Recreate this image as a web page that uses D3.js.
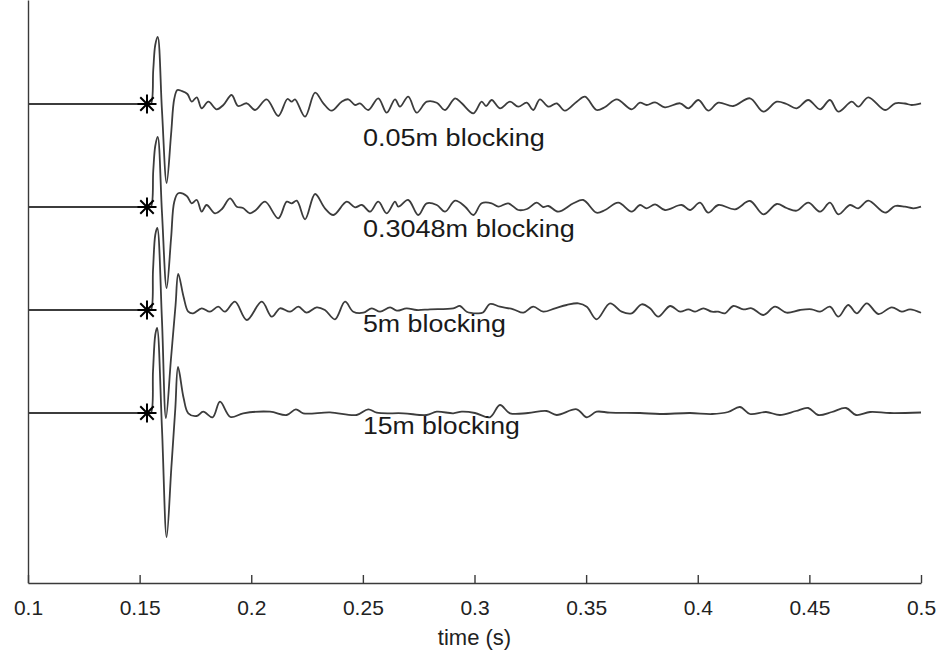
<!DOCTYPE html>
<html>
<head>
<meta charset="utf-8">
<script src="https://cdn.jsdelivr.net/npm/d3@7"></script>
<style>
body { margin: 0; background: #fff; }
svg { display: block; font-family: "Liberation Sans", Arial, sans-serif; }
</style>
</head>
<body>
<div id="chart"></div>
<script>
// x ticks (seconds) and trace labels
const xTicks = [0.1, 0.15, 0.2, 0.25, 0.3, 0.35, 0.4, 0.45, 0.5];
const labels = ["0.05m blocking", "0.3048m blocking", "5m blocking", "15m blocking"];
const pickTimeMs = 153.3;
const traceSpacing = 103;

// [time in ms, amplitude]
const trace1 = [[100,0],[153.3,0],[155.0,0],[156.1,34],[157.0,59],[158.1,67],[160.0,-6],[162.1,-79],[164.1,-30],[165.5,5],[166.9,14],[168.8,13],[171.4,10],[173.3,2.3],[175.6,6.7],[177.8,-4.3],[180.8,2.3],[184.5,-5.3],[187.5,-1],[191.2,9],[194.1,-2],[198.0,0.7],[201.7,-6],[206.9,4.7],[212.1,-12],[216.2,5],[218.1,2.3],[219.6,4.7],[224.1,-12.7],[228.6,11.3],[232.3,0.7],[236.0,-6.7],[240.5,2.3],[243.5,4.7],[246.5,-1],[248.7,0.7],[252.4,-6],[256.9,5.7],[260.7,-8.7],[264.4,4.7],[266.6,-2.7],[270.3,7.3],[274.1,-8.7],[278.6,2.3],[283.1,1.3],[286.8,-6],[291.3,5.7],[294.3,0.7],[299.5,-9.3],[303.2,2.3],[305.2,-2],[307.7,4],[311.4,-4.3],[315.9,2.3],[319.6,-2.7],[323.4,1.3],[326.3,-6],[329.3,4.7],[333.1,-2.7],[336.8,0.7],[340.5,-6.7],[345.8,2.3],[349.5,7.3],[354.7,-6],[358.5,-3],[363.7,4.7],[370.4,-5.3],[374.1,1.3],[377.1,-1],[380.9,1.7],[385.3,-3.3],[392.1,0.7],[395.8,-4.3],[400.3,4],[404.7,-6.7],[409.2,1.3],[415.9,-2],[423.4,5.7],[429.4,-7.7],[435.4,2.3],[439.8,0],[444.3,-4.3],[449.5,4],[454.8,-5.3],[459.2,4],[463.0,-7.7],[469.0,2.3],[471.9,-2.7],[476.4,6.7],[483.9,-6],[488.4,0.7],[492.8,0.5],[495.8,-1],[500,0.7]];

const trace2 = [[100,0],[153.3,0],[155.0,0],[156.1,36],[157.0,61],[158.1,70],[160.0,-5],[162.1,-81],[164.1,-31],[165.5,5],[167.3,13.7],[171.1,11],[173.3,3.7],[175.6,7],[177.8,-4.7],[180.0,2],[183.8,-6.3],[186.9,-2],[190.5,8.7],[193.5,0.3],[196.3,-1],[199.4,-6.3],[202.1,-3],[206.2,5.3],[212.1,-11.3],[215.9,5.3],[218.1,3.7],[220.4,6.3],[224.1,-12.3],[228.6,13],[233.0,-1.3],[236.8,-8],[242.8,5.3],[246.5,-0.3],[249.6,2],[253.2,-4.7],[256.9,5.3],[260.7,-6.3],[264.4,5.3],[265.9,0.3],[270.3,7],[274.8,-8],[278.6,3.7],[283.1,2],[286.8,-4.7],[291.3,6.3],[295.8,0.3],[299.5,-8],[303.2,3.7],[307.7,3.7],[310.7,0.3],[315.1,3.7],[319.6,-3],[323.5,-2],[327.9,4.3],[330.7,0],[333.1,1],[337.5,-4.7],[344.3,3.7],[348.7,7],[354.7,-5.7],[358.5,-3],[364.4,4.3],[370.4,-4.7],[374.1,2],[377.1,-1.3],[380.9,2.7],[385.3,-3],[392.8,2],[396.5,-3],[401.0,4.3],[404.7,-5.7],[409.2,2],[416.7,-2.3],[423.4,6],[429.4,-7.3],[435.4,3],[439.8,-1],[444.3,-3.7],[449.5,4.3],[454.8,-4.7],[459.2,4.3],[463.0,-7.3],[468.2,2],[471.9,-1.3],[476.4,6.3],[483.9,-5.7],[488.4,1],[492.8,0.3],[496.6,-1.3],[500,0.3]];

const trace3 = [[100,0],[153.3,0],[155.0,0],[156.0,40],[157.0,75],[157.9,82],[160.0,-10],[161.8,-108],[164.0,-50],[166.1,5],[167.3,36],[169.7,13],[171.8,-1.7],[174.0,-3.3],[177.8,1.7],[181.5,-1.7],[185.2,3.3],[188.2,-1.7],[192.7,8.3],[198.0,-10],[204.7,8.3],[209.2,-6.7],[212.9,1.7],[217.4,-1.7],[221.1,3.3],[224.8,-2.7],[229.3,2.7],[233.0,0],[237.5,-9.3],[242.0,8.3],[245.7,-1.7],[250.2,-2.7],[254.0,1.7],[257.7,-1.7],[262.2,2.7],[265.2,-0.7],[269.6,1.7],[274.1,0],[280.1,0.7],[290.5,1.7],[293.5,4],[296.5,-1.7],[301.0,-3.3],[303.8,-2.5],[306.9,6],[311.4,3.3],[317.4,0.7],[321.9,-2.7],[326.3,3.3],[330.8,-1.7],[336.1,1.7],[341.3,5],[346.5,6.7],[350.3,3.3],[354.7,-9.3],[360.7,6.7],[365.9,-1.7],[370.4,-3.3],[374.9,5.7],[378.6,1.7],[382.3,-6.7],[387.6,4],[392.1,-1.7],[395.8,0.7],[398.8,-1.7],[402.5,1.7],[406.3,-1.7],[409.1,-1.7],[412.2,-3.3],[415.9,4],[420.4,0.7],[424.2,1.7],[429.4,-5],[434.6,3.3],[439.8,-2.7],[445.8,0],[451.0,0.7],[454.8,-1.7],[459.2,3.3],[463.0,-6.7],[467.4,5],[471.2,-3.3],[475.7,6.7],[480.9,-4],[486.9,2.7],[491.4,-1.7],[495.1,0.7],[500,-2.7]];

const trace4 = [[100,0],[153.3,0],[155.0,0],[156.0,42],[157.0,78],[157.8,85],[160.0,-15],[162.1,-124],[164.2,-55],[166.0,5],[167.2,46],[169.7,15],[171.8,-0.3],[175.6,-3],[178.5,1.3],[182.7,-4.3],[186.0,11.3],[190.7,-4],[196.4,-0.3],[208.4,1.3],[215.9,-2],[220.0,3.7],[223.3,-0.3],[235.3,0.7],[247.2,-2],[252.4,3.7],[256.2,0.3],[268.1,-0.3],[278.6,-2],[283.1,1.3],[290.5,-0.3],[294.3,1.3],[300.2,0],[306.9,-4.3],[311.4,8],[315.9,-0.3],[324.0,0],[332.3,2],[336.8,-2],[345.8,3.7],[350.3,-4.3],[354.7,1.3],[360.7,0.3],[374.1,0],[383.1,-1],[396.5,0],[406.4,-1],[413.6,1],[418.9,6],[423.4,-1],[430.6,1],[436.8,-2],[444.0,2],[449.5,5],[453.9,-2],[460.1,1],[466.4,5],[470.9,-2],[477.2,1],[486.1,0],[500,0.5]];

const traces = [trace1, trace2, trace3, trace4];

const width = 943, height = 656;
const margin = {left: 28, right: 22, top: 0, bottom: 73};

const svg = d3.select("#chart").append("svg")
	.attr("width", width)
	.attr("height", height);

svg.append("rect").attr("width", width).attr("height", height).attr("fill", "#fff");

const x = d3.scaleLinear().domain([0.1, 0.5]).range([margin.left, width - margin.right]);
const y = d3.scaleLinear().domain([-479, 104]).range([height - margin.bottom, margin.top]);

// bottom axis, ticks pointing in
const xAxis = d3.axisBottom(x)
	.tickValues(xTicks)
	.tickFormat(d3.format(""))
	.tickSizeInner(-8)
	.tickSizeOuter(0)
	.tickPadding(17);

const gx = svg.append("g")
	.attr("transform", `translate(0, ${height - margin.bottom})`)
	.call(xAxis);
gx.select(".domain").attr("stroke", "#3a3a3a").attr("stroke-width", 1.4);
gx.selectAll(".tick line").attr("stroke", "#3a3a3a").attr("stroke-width", 1.4);
gx.selectAll(".tick text")
	.attr("fill", "#222")
	.attr("font-size", 21)
	.attr("font-family", "Liberation Sans, Arial, sans-serif");

// left spine only
const gy = svg.append("g")
	.attr("transform", `translate(${margin.left}, 0)`)
	.call(d3.axisLeft(y).tickValues([]).tickSizeOuter(0));
gy.select(".domain").attr("stroke", "#3a3a3a").attr("stroke-width", 1.4);

svg.append("text")
	.attr("x", (x.range()[0] + x.range()[1]) / 2)
	.attr("y", 645)
	.attr("text-anchor", "middle")
	.attr("font-size", 22)
	.attr("fill", "#222")
	.text("time (s)");

// traces
const line = d3.line()
	.x(d => x(d[0] / 1000))
	.y(d => y(d[1]))
	.curve(d3.curveCatmullRom.alpha(0.5));

traces.forEach((tr, k) => {
	const off = -k * traceSpacing;
	svg.append("path")
		.datum(tr.map(d => [d[0], d[1] + off]))
		.attr("d", line)
		.attr("fill", "none")
		.attr("stroke", "#3c3c3c")
		.attr("stroke-width", 1.8)
		.attr("stroke-linejoin", "round");
});

// pick markers (plus + times = asterisk)
const marks = svg.append("g").attr("class", "picks");
traces.forEach((tr, k) => {
	const cx = x(pickTimeMs / 1000), cy = y(-k * traceSpacing);
	[d3.symbolPlus, d3.symbolTimes].forEach(sym => {
		marks.append("path")
			.attr("d", d3.symbol(sym, 120)())
			.attr("transform", `translate(${cx}, ${cy})`)
			.attr("fill", "none")
			.attr("stroke", "#000")
			.attr("stroke-width", 2);
	});
});

// trace labels
const labelDrop = [42, 30, 22, 21];
const labelWidth = [182, 212, 143, 157];
labels.forEach((txt, k) => {
	svg.append("text")
		.attr("x", x(0.25))
		.attr("y", y(-k * traceSpacing) + labelDrop[k])
		.attr("font-size", 23)
		.attr("fill", "#1a1a1a")
		.attr("textLength", labelWidth[k])
		.attr("lengthAdjust", "spacingAndGlyphs")
		.text(txt);
});
</script>
</body>
</html>
